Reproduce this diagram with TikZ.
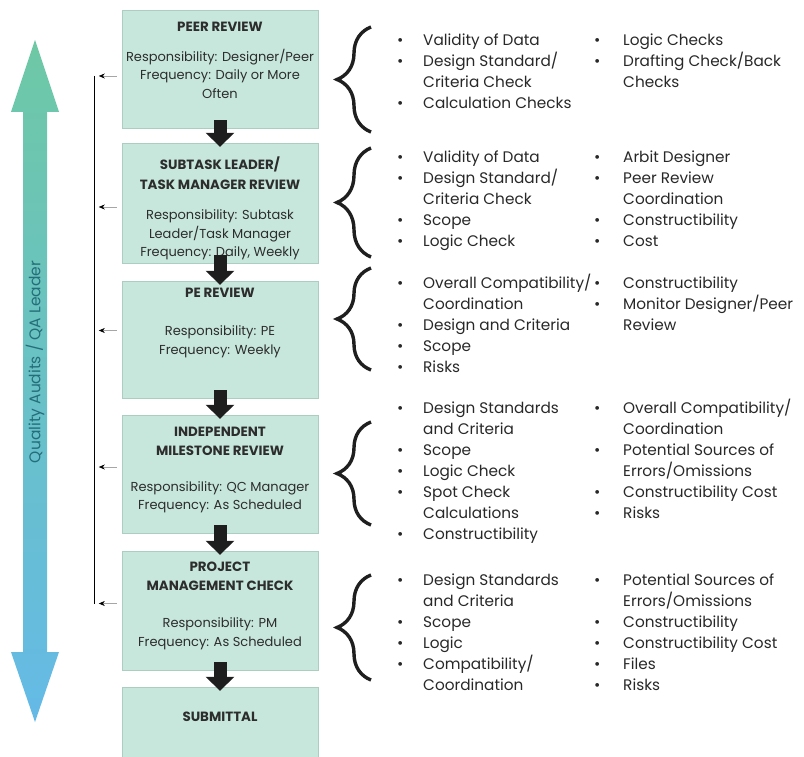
\documentclass[tikz,border=0pt]{standalone}
\usepackage{fontspec}
\setmainfont{Poppins}
\usetikzlibrary{arrows.meta,calc,decorations.pathreplacing}

\definecolor{stagefill}{RGB}{199,231,220}
\definecolor{stageline}{RGB}{172,206,193}
\definecolor{stagetext}{RGB}{45,45,45}
\definecolor{flowdark}{RGB}{30,30,30}
\definecolor{listtext}{RGB}{40,40,40}
\definecolor{qatop}{RGB}{110,200,165}
\definecolor{qamid}{RGB}{98,192,196}
\definecolor{qabot}{RGB}{100,186,230}
\definecolor{qatext}{RGB}{36,110,122}

% box text: height, top pad, title, gap, body
\newcommand\stagetext[5]{\parbox[c][#1][t]{196pt}{\centering\vspace*{#2}%
	{\fontsize{13.4}{19.5}\selectfont\bfseries #3\par}\vspace{#4}%
	{\fontsize{13}{18.5}\selectfont #5\par}}}
\newcommand\itm[1]{\textbullet & #1\\}
\newcommand\cnt[1]{& #1\\}

\begin{document}
\begin{tikzpicture}[x=1pt,y=-1pt,
		stage/.style={draw=stageline,fill=stagefill,inner sep=0pt,text=stagetext},
		flow/.style={draw=flowdark,line width=13pt,-{Triangle[length=14pt,width=28pt]}},
		fbarrow/.style={draw=gray!70,line width=0.5pt,-{Stealth[length=6pt,width=5pt,black]}},
		fbline/.style={draw=black,line width=0.9pt},
		curly/.style={decorate,decoration={brace,amplitude=34pt},line width=3.4pt,draw=black!88},
		list/.style={anchor=base west,inner sep=0pt,text=listtext,font=\fontsize{15.3}{21}\selectfont}]
	\useasboundingbox (0,0) rectangle (804,757);
	
	% quality audits arrow
	\shade[top color=qatop,middle color=qamid,bottom color=qabot]
		(35,40) -- (59,112) -- (47,112) -- (47,652) -- (59,652) -- (35,722)
		-- (11,652) -- (23,652) -- (23,112) -- (11,112) -- cycle;
	\node[rotate=90,text=qatext,font=\fontsize{15.5}{18}\selectfont] (qa) at (35,362) {Quality Audits / QA Leader};
	
	% review stages
	\node[stage] (peer) at (220,69) {\stagetext{118pt}{12.5pt}{PEER REVIEW}{11pt}{Responsibility: Designer/Peer\\Frequency: Daily or More\\Often}};
	\node[stage] (subtask) at (220,203) {\stagetext{120pt}{14pt}{SUBTASK LEADER/\\TASK MANAGER REVIEW}{12pt}{Responsibility: Subtask\\Leader/Task Manager\\Frequency: Daily, Weekly}};
	\node[stage] (pe) at (220,339.5) {\stagetext{117pt}{7pt}{PE REVIEW}{20pt}{Responsibility: PE\\Frequency: Weekly}};
	\node[stage] (indep) at (220,474) {\stagetext{118pt}{12pt}{INDEPENDENT\\MILESTONE REVIEW}{17pt}{Responsibility: QC Manager\\Frequency: As Scheduled}};
	\node[stage] (pmc) at (220,610.5) {\stagetext{119pt}{10.5pt}{PROJECT\\MANAGEMENT CHECK}{18.5pt}{Responsibility: PM\\Frequency: As Scheduled}};
	\node[stage] (submittal) at (220,723) {\stagetext{72pt}{24.5pt}{SUBMITTAL}{0pt}{}};
	
	\foreach \a/\b in {peer/subtask,subtask/pe,pe/indep,indep/pmc,pmc/submittal}
		\draw[flow] ([yshift=8pt]\a.south) -- ([yshift=-4pt]\b.north);
	
	% feedback line
	\foreach \b/\dy in {peer/7,subtask/4,pe/-9,indep/-7,pmc/-7} {
		\coordinate (fb-\b) at ($(\b.west)+(-27,\dy)$);
		\draw[fbarrow] ($(\b.west)+(-5,\dy)$) -- ($(fb-\b)+(4,0)$);
	}
	\draw[fbline] (fb-peer) -- (fb-pmc);
	
	% braces
	\foreach \t/\b in {27/132,148/257,268/370,422/525,575/680}
		\draw[curly] (371,\b) -- (371,\t);
	
	% check lists
	\node[list] (peer-a) at (397,46) {\begin{tabular}[t]{@{}p{26pt}@{}l@{}}
		\itm{Validity of Data}\itm{Design Standard/}\cnt{Criteria Check}\itm{Calculation Checks}\end{tabular}};
	\node[list] (peer-b) at (594,46) {\begin{tabular}[t]{@{}p{29pt}@{}l@{}}
		\itm{Logic Checks}\itm{Drafting Check/Back}\cnt{Checks}\end{tabular}};
	\node[list] (subtask-a) at (397,163) {\begin{tabular}[t]{@{}p{26pt}@{}l@{}}
		\itm{Validity of Data}\itm{Design Standard/}\cnt{Criteria Check}\itm{Scope}\itm{Logic Check}\end{tabular}};
	\node[list] (subtask-b) at (594,163) {\begin{tabular}[t]{@{}p{29pt}@{}l@{}}
		\itm{Arbit Designer}\itm{Peer Review}\cnt{Coordination}\itm{Constructibility}\itm{Cost}\end{tabular}};
	\node[list] (pe-a) at (397,288) {\begin{tabular}[t]{@{}p{26pt}@{}l@{}}
		\itm{Overall Compatibility/}\cnt{Coordination}\itm{Design and Criteria}\itm{Scope}\itm{Risks}\end{tabular}};
	\node[list] (pe-b) at (594,288) {\begin{tabular}[t]{@{}p{29pt}@{}l@{}}
		\itm{Constructibility}\itm{Monitor Designer/Peer}\cnt{Review}\end{tabular}};
	\node[list] (indep-a) at (397,413) {\begin{tabular}[t]{@{}p{26pt}@{}l@{}}
		\itm{Design Standards}\cnt{and Criteria}\itm{Scope}\itm{Logic Check}\itm{Spot Check}\cnt{Calculations}\itm{Constructibility}\end{tabular}};
	\node[list] (indep-b) at (594,413) {\begin{tabular}[t]{@{}p{29pt}@{}l@{}}
		\itm{Overall Compatibility/}\cnt{Coordination}\itm{Potential Sources of}\cnt{Errors/Omissions}\itm{Constructibility Cost}\itm{Risks}\end{tabular}};
	\node[list] (pmc-a) at (397,585) {\begin{tabular}[t]{@{}p{26pt}@{}l@{}}
		\itm{Design Standards}\cnt{and Criteria}\itm{Scope}\itm{Logic}\itm{Compatibility/}\cnt{Coordination}\end{tabular}};
	\node[list] (pmc-b) at (594,585) {\begin{tabular}[t]{@{}p{29pt}@{}l@{}}
		\itm{Potential Sources of}\cnt{Errors/Omissions}\itm{Constructibility}\itm{Constructibility Cost}\itm{Files}\itm{Risks}\end{tabular}};
\end{tikzpicture}
\end{document}
